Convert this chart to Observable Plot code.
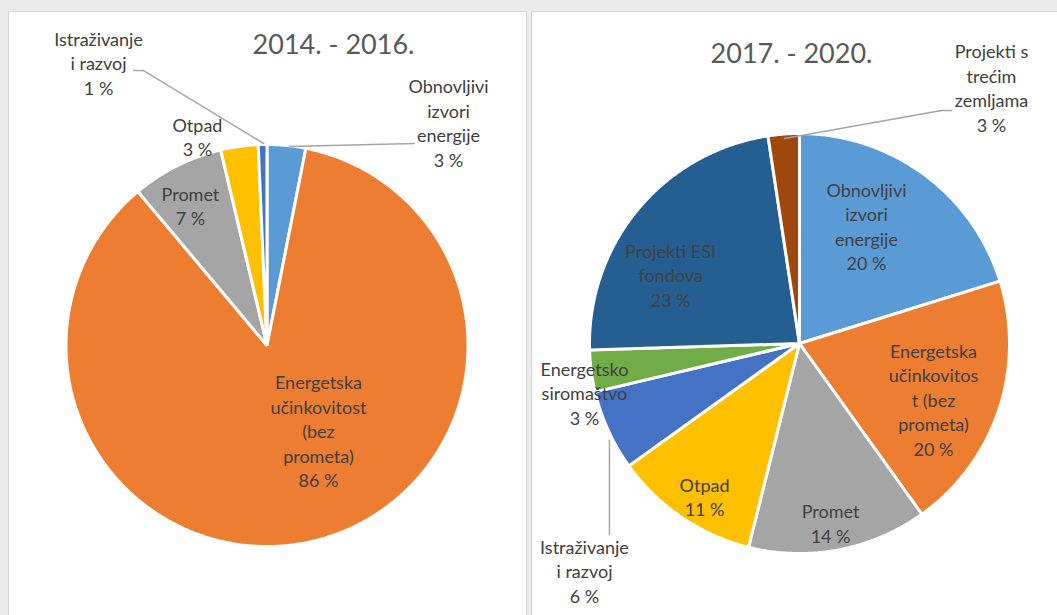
<!DOCTYPE html>
<html>
<head>
<meta charset="utf-8">
<script src="https://cdn.jsdelivr.net/npm/d3@7"></script>
<script src="https://cdn.jsdelivr.net/npm/@observablehq/plot@0.6"></script>
<style>
html, body { margin: 0; padding: 0; width: 1057px; height: 615px; overflow: hidden; background: #ececec; font-family: Lato, "Open Sans", sans-serif; }
.panel { position: absolute; background: #ffffff; border: 1px solid #d4d4d4; box-sizing: border-box; overflow: hidden; }
#p1 { left: 8px; top: 11px; width: 519px; height: 640px; }
#p2 { left: 531px; top: 11px; width: 560px; height: 640px; }
.panel svg { position: absolute; left: 0; top: 0; }
</style>
</head>
<body>
<div class="panel" id="p1"></div>
<div class="panel" id="p2"></div>
<script>
// ---------- DATA ----------
const allCategories = [
  "Obnovljivi izvori energije",
  "Energetska učinkovitost (bez prometa)",
  "Promet",
  "Otpad",
  "Istraživanje i razvoj",
  "Energetsko siromaštvo",
  "Projekti ESI fondova",
  "Projekti s trećim zemljama"
];
const allColors = ["#5b9bd5", "#ed7d31", "#a5a5a5", "#ffc000", "#4472c4", "#70ad47", "#255e91", "#9e480e"];

const title1 = "2014. - 2016.";
const cats1 = ["Obnovljivi izvori energije", "Energetska učinkovitost (bez prometa)", "Promet", "Otpad", "Istraživanje i razvoj"];
const vals1 = [3.1, 85.8, 7.4, 3.0, 0.7];
const pct1 = ["3 %", "86 %", "7 %", "3 %", "1 %"];
const lines1 = [["Obnovljivi", "izvori", "energije"], ["Energetska", "učinkovitost", "(bez", "prometa)"], ["Promet"], ["Otpad"], ["Istraživanje", "i razvoj"]];

const title2 = "2017. - 2020.";
const cats2 = ["Obnovljivi izvori energije", "Energetska učinkovitost (bez prometa)", "Promet", "Otpad", "Istraživanje i razvoj", "Energetsko siromaštvo", "Projekti ESI fondova", "Projekti s trećim zemljama"];
const vals2 = [20.2, 19.9, 13.8, 11.2, 6.2, 3.2, 23.1, 2.4];
const pct2 = ["20 %", "20 %", "14 %", "11 %", "6 %", "3 %", "23 %", "3 %"];
const lines2 = [["Obnovljivi", "izvori", "energije"], ["Energetska", "učinkovitos", "t (bez", "prometa)"], ["Promet"], ["Otpad"], ["Istraživanje", "i razvoj"], ["Energetsko", "siromaštvo"], ["Projekti ESI", "fondova"], ["Projekti s", "trećim", "zemljama"]];

// ---------- LAYOUT (unit coordinates relative to each pie; y up) ----------
const layout1 = {
  width: 517, height: 620, cx: 257.5, cy: 333, r: 201,
  title: [0.331, 1.493],
  labels: [[0.903, 1.10], [0.256, -0.433], [-0.381, 0.689], [-0.346, 1.030], [-0.838, 1.398]],
  leaders: {0: [[0.112, 0.990], [0.733, 1.005]], 4: [[-0.017, 1.005], [-0.614, 1.368], [-0.664, 1.368]]}
};
const layout2 = {
  width: 558, height: 620, cx: 267, cy: 331, r: 210,
  title: [-0.038, 1.379],
  labels: [[0.319, 0.552], [0.638, -0.274], [0.148, -0.864], [-0.452, -0.738], [-1.024, -1.090], [-1.024, -0.243], [-0.614, 0.319], [0.914, 1.210]],
  leaders: {4: [[-0.905, -0.462], [-0.905, -0.910]], 7: [[-0.071, 0.976], [0.676, 1.110], [0.724, 1.110]]}
};

const FONT = "Lato, 'Open Sans', sans-serif";
const LABEL_SIZE = 18, LINE_STEP = 24.5, TITLE_SIZE = 27;

function pieChart(cats, vals, pct, lines, title, L) {
  const arcs = d3.pie().sort(null).value(d => d)(vals);
  const slicePts = [];
  arcs.forEach((a, i) => {
    slicePts.push({key: cats[i], x: 0, y: 0});
    const n = Math.max(2, Math.ceil((a.endAngle - a.startAngle) / (Math.PI / 360)));
    for (let k = 0; k <= n; k++) {
      const t = a.startAngle + (a.endAngle - a.startAngle) * k / n;
      slicePts.push({key: cats[i], x: Math.sin(t), y: Math.cos(t)});
    }
  });
  const textRows = [];
  cats.forEach((c, i) => {
    const ls = [...lines[i], pct[i]];
    const [u, v] = L.labels[i];
    ls.forEach((s, j) => {
      textRows.push({text: s, x: u, y: v + ((ls.length - 1) / 2 - j) * LINE_STEP / L.r});
    });
  });
  const leaderRows = [];
  Object.entries(L.leaders).forEach(([i, pts]) => pts.forEach(p => leaderRows.push({id: +i, x: p[0], y: p[1]})));
  return Plot.plot({
    width: L.width,
    height: L.height,
    margin: 0,
    style: {background: "transparent", overflow: "visible", fontFamily: FONT},
    x: {domain: [-1, 1], range: [L.cx - L.r, L.cx + L.r], axis: null},
    y: {domain: [-1, 1], range: [L.cy + L.r, L.cy - L.r], axis: null},
    color: {domain: allCategories, range: allColors},
    marks: [
      Plot.line(slicePts, {x: "x", y: "y", z: "key", fill: "key", stroke: "#ffffff", strokeWidth: 3, strokeLinejoin: "miter", curve: "linear-closed"}),
      Plot.line(leaderRows, {x: "x", y: "y", z: "id", stroke: "#a6a6a6", strokeWidth: 1.5}),
      Plot.text(textRows, {x: "x", y: "y", text: "text", fill: "#404040", fontSize: LABEL_SIZE, fontFamily: FONT}),
      Plot.text([{t: title, x: L.title[0], y: L.title[1]}], {x: "x", y: "y", text: "t", fill: "#595959", fontSize: TITLE_SIZE, fontFamily: FONT})
    ]
  });
}

document.getElementById("p1").appendChild(pieChart(cats1, vals1, pct1, lines1, title1, layout1));
document.getElementById("p2").appendChild(pieChart(cats2, vals2, pct2, lines2, title2, layout2));
</script>
</body>
</html>
